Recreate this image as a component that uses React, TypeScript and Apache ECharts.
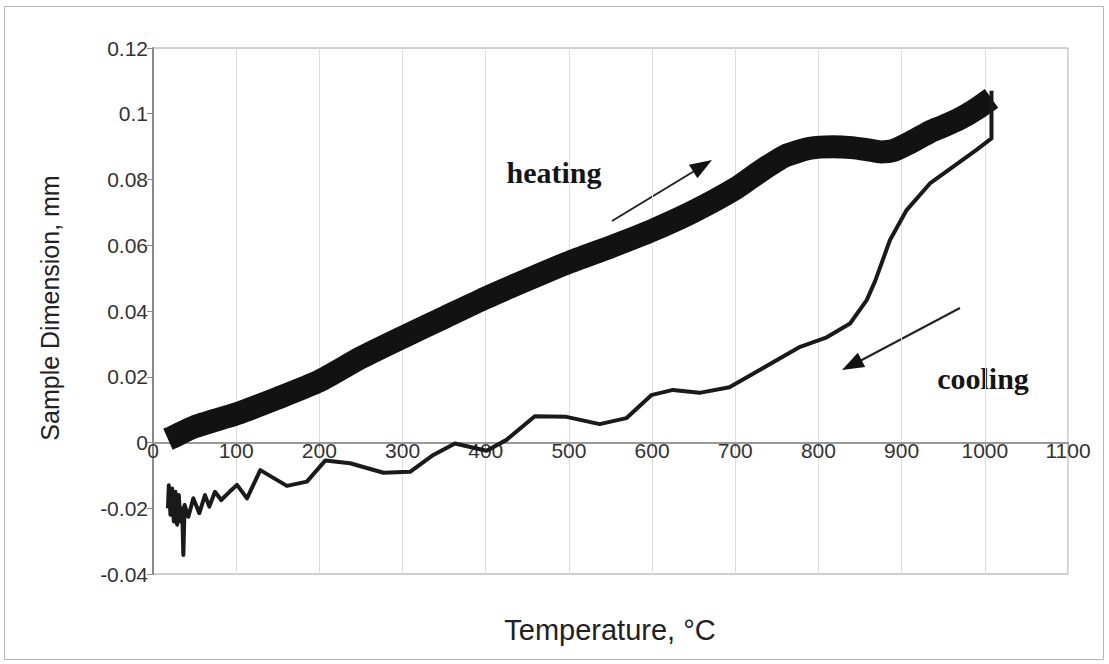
import React, { useEffect, useRef } from "react";
import * as echarts from "echarts";

// Heating branch (centre of the thick trace): temperature °C, dimension mm
const heatingT = [18, 25, 50, 100, 150, 200, 250, 300, 350, 400, 450, 500, 550, 600, 650, 700, 730, 760, 790, 817, 840, 860, 875, 890, 910, 934, 950, 970, 990, 1008];
const heatingV = [0.001, 0.0018, 0.0048, 0.0087, 0.0135, 0.0187, 0.0258, 0.032, 0.038, 0.044, 0.0495, 0.0548, 0.0595, 0.0645, 0.0703, 0.0772, 0.0825, 0.0872, 0.0895, 0.09, 0.0897, 0.089, 0.0884, 0.0888, 0.0912, 0.0945, 0.0962, 0.0985, 0.1015, 0.1047];

// Cooling branch: temperature °C, dimension mm
const coolingT = [1008, 1008, 990, 962, 934, 906, 886, 868, 858, 838, 810, 778, 733, 693, 657, 625, 599, 569, 537, 497, 459, 425, 401, 363, 337, 309, 277, 237, 207, 185, 161, 129, 113, 101, 92, 82, 74.5, 67.7, 62.5, 55.7, 48.5, 42.5, 38, 36.5, 35, 33, 31, 29, 27, 25, 23, 21, 19, 18];
const coolingV = [0.107, 0.0925, 0.089, 0.0839, 0.0788, 0.0707, 0.0616, 0.049, 0.0433, 0.0362, 0.032, 0.0291, 0.0226, 0.0168, 0.0151, 0.016, 0.0144, 0.0074, 0.0056, 0.0078, 0.008, 0.0008, -0.0025, -0.0003, -0.0038, -0.0089, -0.0092, -0.0063, -0.0055, -0.0119, -0.0132, -0.0084, -0.017, -0.0129, -0.015, -0.0175, -0.015, -0.0195, -0.016, -0.0215, -0.017, -0.0226, -0.019, -0.0342, -0.02, -0.024, -0.016, -0.025, -0.015, -0.024, -0.014, -0.022, -0.013, -0.02];

const xTitle = "Temperature, °C";
const yTitle = "Sample Dimension, mm";
const heatingLabel = "heating";
const coolingLabel = "cooling";

export default function App() {
  const ref = useRef<HTMLDivElement>(null);
  useEffect(() => {
    if (!ref.current) return;
    const chart = echarts.init(ref.current, null, { renderer: "svg" });
    const heating = heatingT.map((t, i) => [t, heatingV[i]]);
    const cooling = coolingT.map((t, i) => [t, coolingV[i]]);
    const plotBottom = 574;
    const zeroY = 48 + (0.12 / 0.16) * (plotBottom - 48);
    chart.setOption({
      animation: false,
      backgroundColor: "#ffffff",
      grid: {
        left: 153,
        right: 41,
        top: 48,
        bottom: 664 - plotBottom,
        show: true,
        borderColor: "#a0a0a0",
        borderWidth: 1,
      },
      xAxis: {
        type: "value",
        min: 0,
        max: 1100,
        interval: 100,
        offset: -(plotBottom - zeroY),
        axisLine: { onZero: false, lineStyle: { color: "#9a9a9a", width: 2 } },
        axisTick: { show: true, length: 5, lineStyle: { color: "#9a9a9a" } },
        axisLabel: {
          margin: -3,
          fontFamily: "Liberation Sans, Arial, sans-serif",
          fontSize: 21,
          color: "#333",
          formatter: (v: number) => String(v),
        },
        splitLine: { show: true, lineStyle: { color: "#dedede", width: 1 } },
      },
      yAxis: {
        type: "value",
        min: -0.04,
        max: 0.12,
        interval: 0.02,
        axisLine: { show: true, onZero: false, lineStyle: { color: "#8a8a8a", width: 2 } },
        axisTick: { show: true, length: 6, lineStyle: { color: "#8a8a8a" } },
        axisLabel: {
          margin: 5,
          fontFamily: "Liberation Sans, Arial, sans-serif",
          fontSize: 21,
          color: "#333",
        },
        splitLine: { show: false },
      },
      series: [
        {
          type: "line",
          data: heating,
          showSymbol: false,
          smooth: 0.2,
          lineStyle: { color: "#121212", width: 23, join: "round" },
          z: 2,
        },
        {
          type: "line",
          data: cooling,
          showSymbol: false,
          lineStyle: { color: "#1a1a1a", width: 4, join: "round" },
          z: 3,
        },
      ],
      graphic: [
        {
          type: "rect",
          shape: { x: 4.5, y: 6.5, width: 1099, height: 653 },
          style: { fill: "none", stroke: "#b5b5b5", lineWidth: 1 },
          z: -1,
        },
        {
          type: "text",
          x: 610,
          y: 630,
          style: {
            text: xTitle,
            fontFamily: "Liberation Sans, Arial, sans-serif",
            fontSize: 29,
            fill: "#222",
            align: "center",
            verticalAlign: "middle",
          },
        },
        {
          type: "text",
          x: 50,
          y: 308,
          rotation: Math.PI / 2,
          style: {
            text: yTitle,
            fontFamily: "Liberation Sans, Arial, sans-serif",
            fontSize: 25,
            fill: "#222",
            align: "center",
            verticalAlign: "middle",
          },
        },
        {
          type: "text",
          x: 554,
          y: 172,
          style: {
            text: heatingLabel,
            fontFamily: "Liberation Serif, Times New Roman, serif",
            fontWeight: "bold",
            fontSize: 30,
            fill: "#151515",
            align: "center",
            verticalAlign: "middle",
          },
        },
        {
          type: "text",
          x: 983,
          y: 378,
          style: {
            text: coolingLabel,
            fontFamily: "Liberation Serif, Times New Roman, serif",
            fontWeight: "bold",
            fontSize: 30,
            fill: "#151515",
            align: "center",
            verticalAlign: "middle",
          },
        },
        {
          type: "line",
          shape: { x1: 612, y1: 221, x2: 696, y2: 170 },
          style: { stroke: "#222", lineWidth: 2 },
        },
        {
          type: "polygon",
          shape: { points: [[712, 160], [697.4, 178.3], [689.0, 164.7]] },
          style: { fill: "#111" },
        },
        {
          type: "line",
          shape: { x1: 960, y1: 308, x2: 858, y2: 362 },
          style: { stroke: "#222", lineWidth: 2 },
        },
        {
          type: "polygon",
          shape: { points: [[842, 370], [865.2, 366.9], [857.8, 352.7]] },
          style: { fill: "#111" },
        },
      ],
    });
    return () => chart.dispose();
  }, []);
  return (
    <div
      ref={ref}
      style={{ position: "absolute", left: 0, top: 0, width: 1109, height: 664 }}
    />
  );
}
